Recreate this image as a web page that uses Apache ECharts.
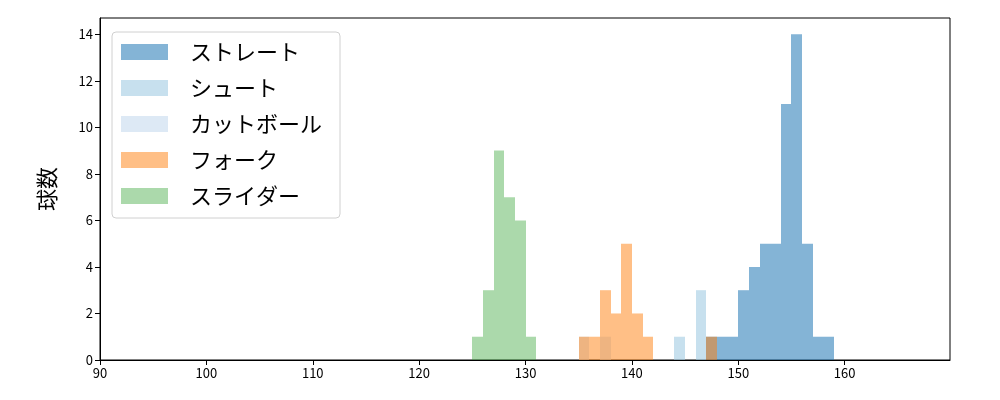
<!DOCTYPE html>
<html>
<head>
<meta charset="utf-8">
<script src="https://cdn.jsdelivr.net/npm/echarts@6/dist/echarts.min.js"></script>
<style>
  html, body { margin: 0; padding: 0; background: #fff; }
  #chart { width: 1000px; height: 400px; }
</style>
</head>
<body>
<div id="chart"></div>
<script>
// 球種ごとのヒストグラム (ビン幅 1km/h, 値はビンの左端)
const seriesNames = ['ストレート', 'シュート', 'カットボール', 'フォーク', 'スライダー']

const straightBins = [147, 148, 149, 150, 151, 152, 153, 154, 155, 156, 157, 158]
const straightCounts = [1, 1, 1, 3, 4, 5, 5, 11, 14, 5, 1, 1]

const shootBins = [144, 146]
const shootCounts = [1, 3]

const cutBins = [135, 137]
const cutCounts = [1, 1]

const forkBins = [135, 136, 137, 138, 139, 140, 141, 147]
const forkCounts = [1, 1, 3, 2, 5, 2, 1, 1]

const sliderBins = [125, 126, 127, 128, 129, 130]
const sliderCounts = [1, 3, 9, 7, 6, 1]

const colors = [
  'rgba(31, 119, 180, 0.55)',
  'rgba(158, 202, 225, 0.58)',
  'rgba(198, 219, 239, 0.6)',
  'rgba(255, 127, 14, 0.5)',
  'rgba(44, 160, 44, 0.4)'
]

const font = '"Noto Sans CJK JP", "DejaVu Sans", sans-serif'

const toData = (bins, counts) => bins.map((b, i) => [b, counts[i]])

// ビンの矩形を軸の座標から描く (端は整数ピクセルに丸めて隙間を防ぐ)
const renderBar = (params, api) => {
  const x = api.value(0)
  const c = api.value(1)
  const p0 = api.coord([x, c])
  const p1 = api.coord([x + 1, 0])
  const x0 = Math.round(p0[0])
  const x1 = Math.round(p1[0])
  return {
    type: 'rect',
    shape: { x: x0, y: p0[1], width: x1 - x0, height: p1[1] - p0[1] },
    style: { fill: api.visual('color') }
  }
}

const allData = [
  toData(straightBins, straightCounts),
  toData(shootBins, shootCounts),
  toData(cutBins, cutCounts),
  toData(forkBins, forkCounts),
  toData(sliderBins, sliderCounts)
]

const chart = echarts.init(document.getElementById('chart'))

chart.setOption({
  animation: false,
  grid: {
    left: 100,
    right: 50,
    top: 18,
    bottom: 40,
    show: true,
    borderColor: '#000',
    borderWidth: 1
  },
  legend: {
    orient: 'vertical',
    left: 112,
    top: 32,
    padding: [9, 18, 11, 9],
    itemWidth: 47,
    itemHeight: 16,
    itemGap: 14,
    borderColor: '#d0d0d0',
    borderWidth: 1,
    borderRadius: 4,
    backgroundColor: 'rgba(255,255,255,0.8)',
    icon: 'rect',
    data: seriesNames,
    textStyle: {
      fontFamily: font,
      fontSize: 22,
      lineHeight: 22,
      color: '#000',
      padding: [0, 0, 0, 17]
    }
  },
  xAxis: {
    type: 'value',
    min: 90,
    max: 169.9,
    interval: 10,
    splitLine: { show: false },
    axisLine: { onZero: false, lineStyle: { color: '#000', width: 1 } },
    axisTick: { length: 5, lineStyle: { color: '#000' } },
    axisLabel: { fontFamily: font, fontSize: 13, color: '#000', margin: 7, showMaxLabel: false }
  },
  yAxis: {
    type: 'value',
    min: 0,
    max: 14.7,
    interval: 2,
    name: '球数',
    nameLocation: 'middle',
    nameGap: 42,
    nameTextStyle: { fontFamily: font, fontSize: 22, color: '#000' },
    splitLine: { show: false },
    axisLine: { show: true, lineStyle: { color: '#000', width: 1 } },
    axisTick: { show: true, length: 5, lineStyle: { color: '#000' } },
    axisLabel: { fontFamily: font, fontSize: 13, color: '#000', margin: 7, showMaxLabel: false }
  },
  series: seriesNames.map((name, i) => ({
    name,
    type: 'custom',
    renderItem: renderBar,
    itemStyle: { color: colors[i] },
    encode: { x: 0, y: 1 },
    data: allData[i]
  }))
})
</script>
</body>
</html>
